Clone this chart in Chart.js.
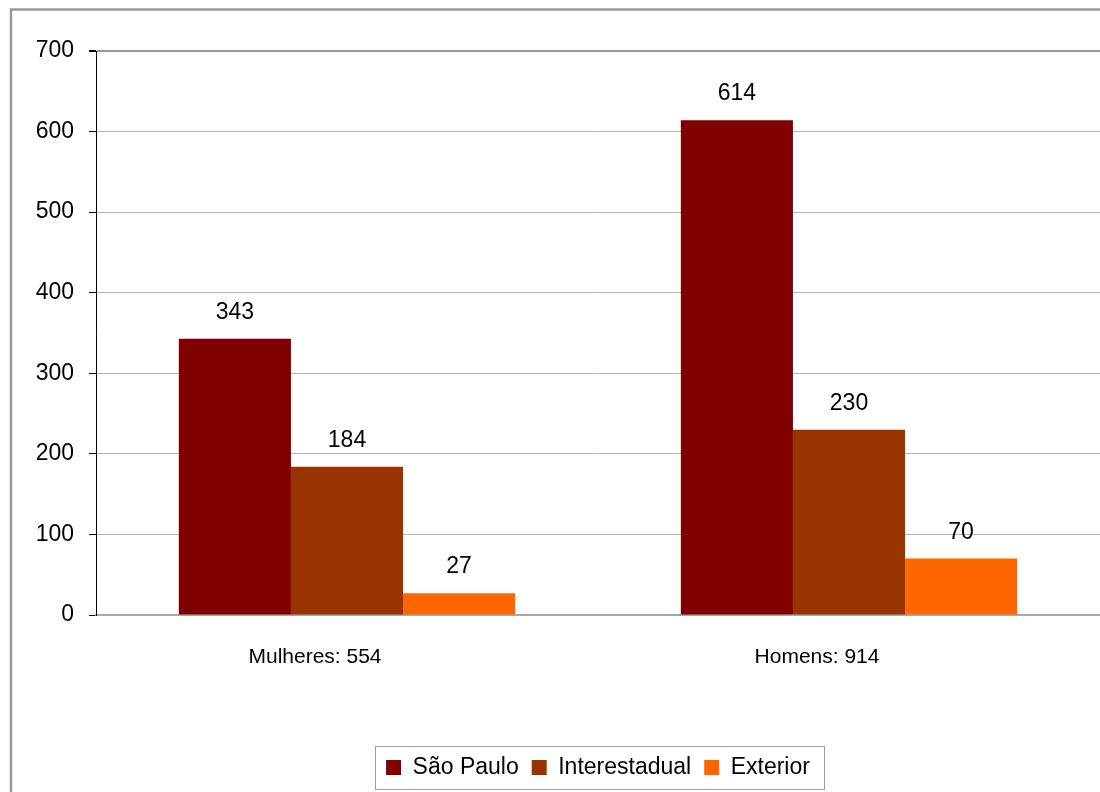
<!DOCTYPE html>
<html>
<head>
<meta charset="utf-8">
<script src="https://cdn.jsdelivr.net/npm/chart.js@4"></script>
<style>
  html, body { margin: 0; padding: 0; background: #fff; }
  #wrap { position: relative; width: 1100px; height: 792px; }
</style>
</head>
<body>
<div id="wrap"><canvas id="chart" width="1100" height="792"></canvas></div>
<script>
const categories = ['Mulheres: 554', 'Homens: 914'];
const saoPaulo = [343, 614];
const interestadual = [184, 230];
const exterior = [27, 70];
const yTicks = [0, 100, 200, 300, 400, 500, 600, 700];

const FONT = "'Liberation Sans', Arial, sans-serif";

// frame around the whole figure + box around the legend
const framePlugin = {
    id: 'frame',
    beforeDraw(chart) {
        const ctx = chart.ctx;
        ctx.save();
        ctx.fillStyle = '#fff';
        ctx.fillRect(0, 0, chart.width, chart.height);
        ctx.strokeStyle = '#9a9a9a';
        ctx.lineWidth = 2.5;
        ctx.strokeRect(11, 9.5, 1200, 1000);
        ctx.restore();
    },
    afterDraw(chart) {
        const boxes = chart.legend.legendHitBoxes;
        if (!boxes || !boxes.length) return;
        const first = boxes[0], last = boxes[boxes.length - 1];
        const ctx = chart.ctx;
        ctx.save();
        ctx.strokeStyle = '#a0a0a0';
        ctx.lineWidth = 1;
        const top = Math.round(first.top + first.height / 2 - 22) + 0.5;
        ctx.strokeRect(Math.round(first.left - 11) + 0.5, top, Math.round(last.left + last.width - first.left + 25), 43);
        ctx.restore();
    }
};

// value printed above each bar
const valueLabels = {
    id: 'valueLabels',
    afterDatasetsDraw(chart) {
        const ctx = chart.ctx;
        ctx.save();
        ctx.font = '23px ' + FONT;
        ctx.fillStyle = '#000';
        ctx.textAlign = 'center';
        ctx.textBaseline = 'alphabetic';
        chart.data.datasets.forEach((ds, i) => {
            chart.getDatasetMeta(i).data.forEach((bar, j) => {
                ctx.fillText(ds.data[j], bar.x, bar.y - 20);
            });
        });
        ctx.restore();
    }
};

new Chart(document.getElementById('chart'), {
    type: 'bar',
    data: {
        labels: categories,
        datasets: [
            { label: 'São Paulo', data: saoPaulo, backgroundColor: '#800000' },
            { label: 'Interestadual', data: interestadual, backgroundColor: '#993300' },
            { label: 'Exterior', data: exterior, backgroundColor: '#ff6600' }
        ]
    },
    options: {
        responsive: false,
        animation: false,
        categoryPercentage: 0.67,
        barPercentage: 1.0,
        layout: { padding: { top: 51, right: 0, bottom: 3, left: 0 } },
        plugins: {
            tooltip: { enabled: false },
            legend: {
                position: 'bottom',
                fullSize: false,
                labels: {
                    font: { family: FONT, size: 23 },
                    color: '#000',
                    boxWidth: 15,
                    boxHeight: 15,
                    padding: 13
                }
            }
        },
        scales: {
            x: {
                grid: { display: false },
                border: { color: '#a8a8a8', width: 2 },
                ticks: { font: { family: FONT, size: 21 }, color: '#000', padding: 22, labelOffset: -32 },
                afterFit(scale) { scale.height = 128; }
            },
            y: {
                min: 0,
                max: 700,
                afterBuildTicks(scale) { scale.ticks = yTicks.map(v => ({ value: v })); },
                afterFit(scale) { scale.width = 96; },
                grid: {
                    color: ctx => ctx.tick && ctx.tick.value === 700 ? '#999' : '#b4b4b4',
                    lineWidth: ctx => ctx.tick && ctx.tick.value === 700 ? 2 : 1,
                    tickColor: '#000',
                    tickLength: 7
                },
                border: { color: '#000', width: 1 },
                ticks: { font: { family: FONT, size: 23 }, color: '#000', padding: 15 }
            }
        }
    },
    plugins: [framePlugin, valueLabels]
});
</script>
</body>
</html>
